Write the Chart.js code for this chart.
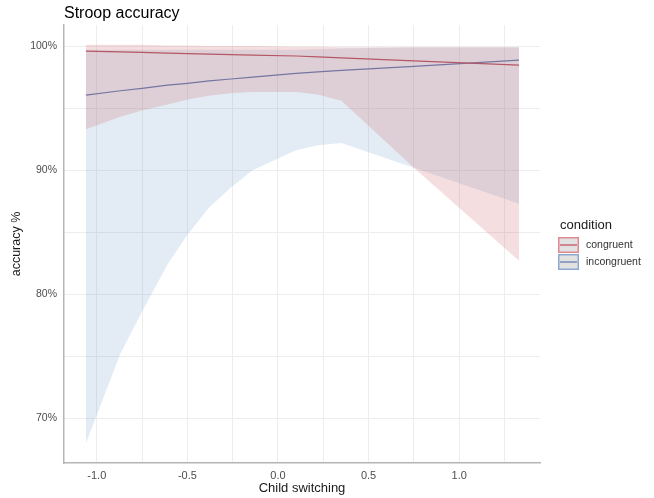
<!DOCTYPE html>
<html>
<head>
<meta charset="utf-8">
<script src="https://cdn.jsdelivr.net/npm/chart.js@4.4.0/dist/chart.umd.min.js"></script>
<style>
  html, body { margin: 0; padding: 0; background: #fff; }
  canvas { display: block; }
</style>
</head>
<body>
<canvas id="chart" width="654" height="498"></canvas>
<script>
// --- data ---
const switching = [-1.06, -0.87, -0.75, -0.61, -0.5, -0.38, -0.26, -0.14, 0.1, 0.22, 0.35, 0.75, 1.33];

const congruentFit  = [99.6, 99.53, 99.49, 99.44, 99.4, 99.36, 99.31, 99.27, 99.2, 99.13, 99.05, 98.81, 98.47];
const congruentLow  = [93.3, 94.3, 94.8, 95.3, 95.7, 96.0, 96.2, 96.3, 96.3, 96.1, 95.6, 90.2, 82.7];
const congruentHigh = [100.1, 100.1, 100.1, 100.05, 100.05, 100.0, 100.0, 100.0, 99.95, 99.95, 99.9, 99.9, 99.9];

const incongruentFit  = [96.05, 96.4, 96.6, 96.85, 97.0, 97.2, 97.35, 97.5, 97.8, 97.92, 98.05, 98.37, 98.87];
const incongruentLow  = [68.0, 75.2, 78.6, 82.4, 84.8, 87.0, 88.6, 90.0, 91.6, 92.0, 92.2, 90.2, 87.3];
const incongruentHigh = [99.7, 99.7, 99.7, 99.7, 99.7, 99.7, 99.7, 99.7, 99.7, 99.75, 99.8, 99.9, 99.9];

const conditions = ['congruent', 'incongruent'];

const xTickValues = [-1, -0.5, 0, 0.5, 1];
const xTickLabels = ['-1.0', '-0.5', '0.0', '0.5', '1.0'];
const yTickValues = [70, 80, 90, 100];
const yTickLabels = ['70%', '80%', '90%', '100%'];

// --- styles ---
const lineColors = ['#c04c57', '#6079b0'];
const ribbonColors = ['rgba(200, 80, 86, 0.19)', 'rgba(100, 150, 195, 0.18)'];
const keyBorders = ['#de8a90', '#8fa8d0'];
const FONT = '"Liberation Sans", Arial, sans-serif';

function pts(ys) {
    return switching.map((x, i) => ({ x: x, y: ys[i] }));
}

function labelFor(values, labels, v) {
    const i = values.findIndex(t => Math.abs(t - v) < 1e-6);
    return i >= 0 ? labels[i] : '';
}

const bandStyle = { borderWidth: 0, pointRadius: 0, tension: 0 };

// title + legend, drawn on top
const overlay = {
    id: 'overlay',
    afterDraw(chart) {
        const ctx = chart.ctx;
        ctx.save();
        ctx.fillStyle = '#000';
        ctx.font = '16px ' + FONT;
        ctx.textBaseline = 'alphabetic';
        ctx.fillText('Stroop accuracy', 64, 18);

        ctx.fillStyle = '#1a1a1a';
        ctx.font = '13px ' + FONT;
        ctx.fillText('condition', 560, 229);

        conditions.forEach((name, i) => {
            const y = 237 + i * 17;
            ctx.fillStyle = '#e2e2e2';
            ctx.fillRect(558, y, 21, 16);
            ctx.strokeStyle = keyBorders[i];
            ctx.lineWidth = 1.5;
            ctx.strokeRect(558.75, y + 0.75, 19.5, 14.5);
            ctx.strokeStyle = lineColors[i];
            ctx.lineWidth = 1.2;
            ctx.beginPath();
            ctx.moveTo(560, y + 8);
            ctx.lineTo(577, y + 8);
            ctx.stroke();
            ctx.fillStyle = '#333';
            ctx.font = '10.5px ' + FONT;
            ctx.textBaseline = 'middle';
            ctx.fillText(name, 586, y + 8);
            ctx.textBaseline = 'alphabetic';
        });
        ctx.restore();
    }
};

new Chart(document.getElementById('chart'), {
    type: 'line',
    data: {
        datasets: [
            { label: 'congruent high', data: pts(congruentHigh), fill: false, ...bandStyle },
            { label: 'congruent low', data: pts(congruentLow), fill: '-1', backgroundColor: ribbonColors[0], ...bandStyle },
            { label: 'incongruent high', data: pts(incongruentHigh), fill: false, ...bandStyle },
            { label: 'incongruent low', data: pts(incongruentLow), fill: '-1', backgroundColor: ribbonColors[1], ...bandStyle },
            { label: conditions[0], data: pts(congruentFit), borderColor: lineColors[0], borderWidth: 1.2, pointRadius: 0, fill: false },
            { label: conditions[1], data: pts(incongruentFit), borderColor: lineColors[1], borderWidth: 1.2, pointRadius: 0, fill: false }
        ]
    },
    options: {
        responsive: false,
        animation: false,
        layout: { padding: { left: 0, top: 25, right: 114, bottom: 0 } },
        plugins: {
            legend: { display: false },
            tooltip: { enabled: false },
            title: { display: false }
        },
        scales: {
            x: {
                type: 'linear',
                min: -1.181,
                max: 1.446,
                afterFit: s => { s.height = 35; },
                border: { display: true, color: '#b5b5b5', width: 1.5 },
                grid: { color: '#ededed', drawTicks: false, lineWidth: 1 },
                ticks: {
                    stepSize: 0.25,
                    includeBounds: false,
                    autoSkip: false,
                    maxRotation: 0,
                    padding: 6,
                    color: '#4d4d4d',
                    font: { family: FONT, size: 11 },
                    callback: v => labelFor(xTickValues, xTickLabels, v)
                },
                title: {
                    display: true,
                    text: 'Child switching',
                    color: '#1a1a1a',
                    font: { family: FONT, size: 13 },
                    padding: { top: 0, bottom: 2 }
                }
            },
            y: {
                min: 66.4,
                max: 101.7,
                afterFit: s => { s.width = 64; },
                border: { display: true, color: '#b5b5b5', width: 1.5 },
                grid: { color: '#ededed', drawTicks: false, lineWidth: 1 },
                ticks: {
                    stepSize: 5,
                    includeBounds: false,
                    autoSkip: false,
                    padding: 7,
                    color: '#4d4d4d',
                    font: { family: FONT, size: 10.5 },
                    callback: v => labelFor(yTickValues, yTickLabels, v)
                },
                title: {
                    display: true,
                    text: 'accuracy %',
                    color: '#1a1a1a',
                    font: { family: FONT, size: 12.5 },
                    padding: { top: 9, bottom: 0 }
                }
            }
        }
    },
    plugins: [overlay]
});
</script>
</body>
</html>
